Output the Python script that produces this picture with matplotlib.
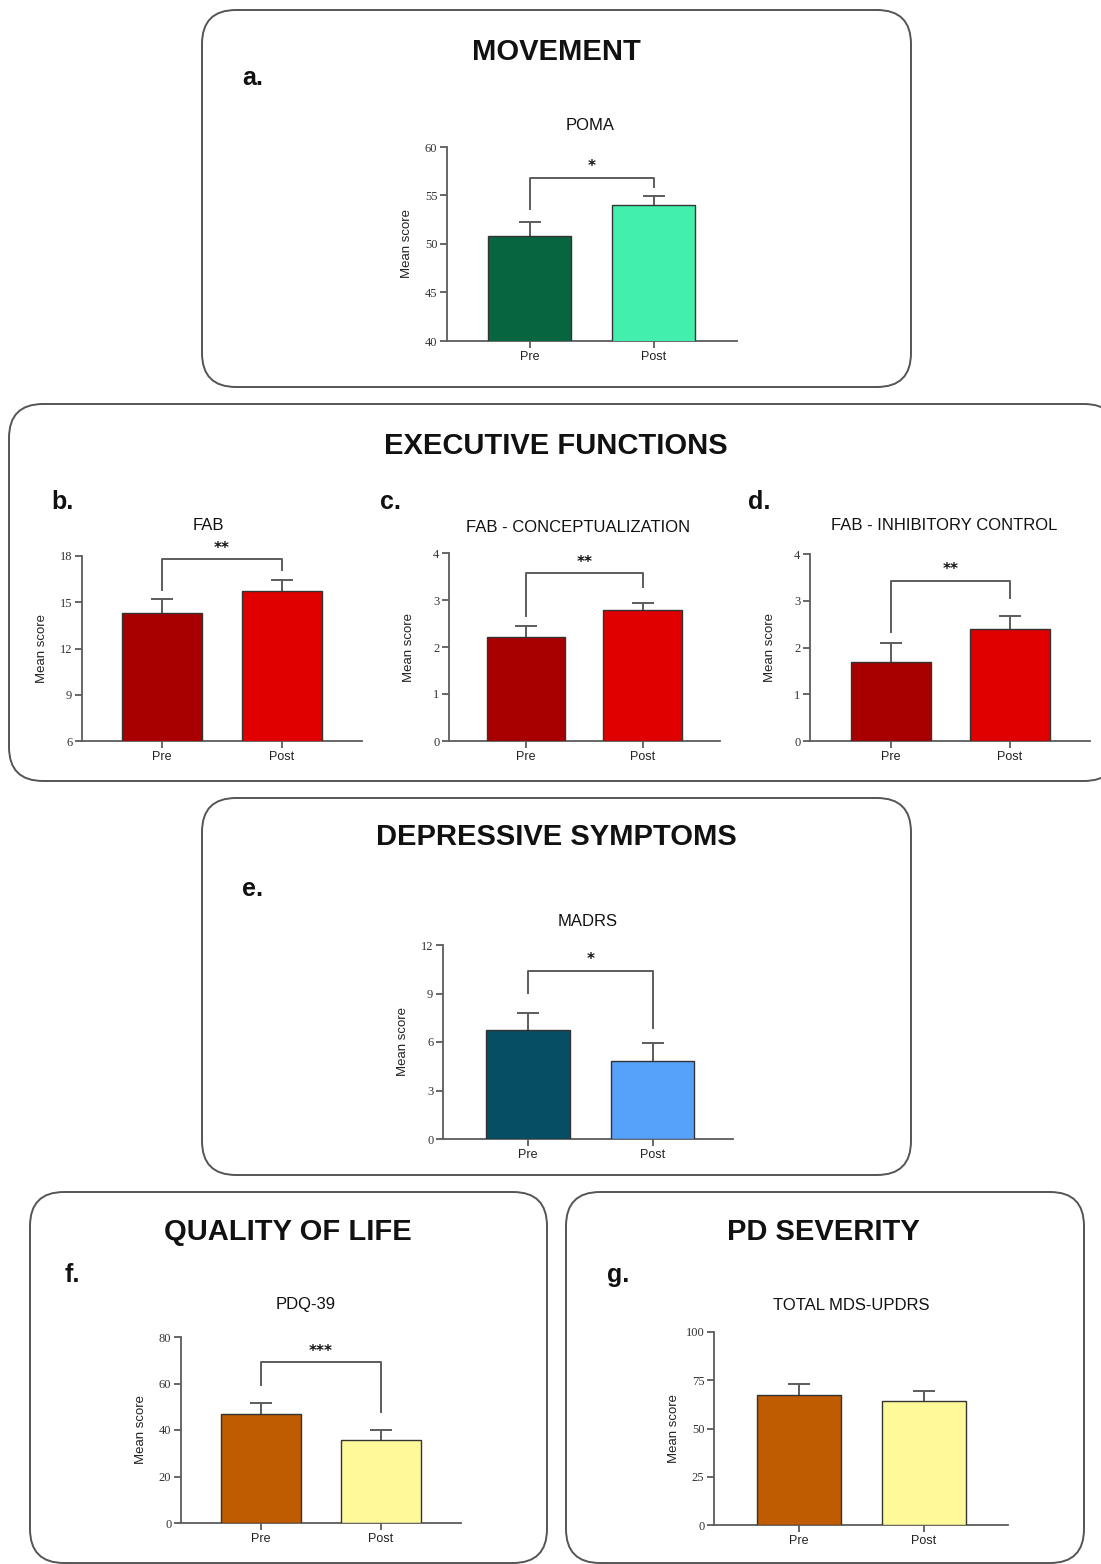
import numpy as np
import matplotlib
matplotlib.use('Agg')
import matplotlib.pyplot as plt
from matplotlib.patches import FancyBboxPatch

# data
categories = ['Pre', 'Post']

poma_mean = [50.8, 54.0]
poma_sem = [1.5, 0.9]
fab_mean = [14.3, 15.7]
fab_sem = [0.9, 0.75]
fab_conc_mean = [2.22, 2.78]
fab_conc_sem = [0.23, 0.15]
fab_inh_mean = [1.69, 2.39]
fab_inh_sem = [0.40, 0.29]
madrs_mean = [6.72, 4.85]
madrs_sem = [1.07, 1.07]
pdq_mean = [46.9, 35.8]
pdq_sem = [4.7, 4.0]
updrs_mean = [67.3, 64.2]
updrs_sem = [6.0, 5.2]

# significance brackets: left leg end, bar height, right leg end, star height, label
poma_sig = [53.6, 56.8, 55.9, 58.0, '*']
fab_sig = [15.8, 17.8, 17.1, 18.5, '**']
fab_conc_sig = [2.67, 3.58, 3.28, 3.79, '**']
fab_inh_sig = [2.34, 3.43, 3.06, 3.66, '**']
madrs_sig = [9.05, 10.41, 6.88, 11.1, '*']
pdq_sig = [59.5, 69.2, 47.6, 73.7, '***']

W, H = 1101, 1564
fig = plt.figure(figsize=(W / 100, H / 100), dpi=100)

# background axis in pixel coords for boxes and headings
bg = fig.add_axes([0, 0, 1, 1], zorder=0)
bg.set_xlim(0, W)
bg.set_ylim(H, 0)
bg.axis('off')

boxes = [(202, 10, 911, 387), (9, 404, 1118, 781), (202, 798, 911, 1175),
         (30, 1192, 547, 1563), (566, 1192, 1084, 1563)]
for x0, y0, x1, y1 in boxes:
    bg.add_patch(FancyBboxPatch((x0, y0), x1 - x0, y1 - y0,
                                boxstyle='round,pad=0,rounding_size=34',
                                fc='white', ec='#555555', lw=1.4))

heads = [('MOVEMENT', 556, 52), ('EXECUTIVE FUNCTIONS', 556, 446),
         ('DEPRESSIVE SYMPTOMS', 556, 837), ('QUALITY OF LIFE', 288, 1232),
         ('PD SEVERITY', 823, 1232)]
for t, x, y in heads:
    bg.text(x, y, t, ha='center', va='center', fontsize=21, fontweight='bold',
            family='Liberation Sans', color='#111111')

letters = [('a.', 242, 78), ('b.', 51, 502), ('c.', 380, 502), ('d.', 748, 502),
           ('e.', 242, 889), ('f.', 65, 1275), ('g.', 607, 1275)]
for t, x, y in letters:
    bg.text(x, y, t, ha='left', va='center', fontsize=18, fontweight='bold',
            family='Liberation Sans', color='#111111')

GRAY = '#5c5c5c'


def panel(title, tx, ty, box, centers, means, sems, colors, ylim, yticks, sig=None):
    left, right, top, bottom = box
    c0, c1 = centers
    sp = c1 - c0
    ax = fig.add_axes([left / W, 1 - bottom / H, (right - left) / W, (bottom - top) / H], zorder=2)
    ax.patch.set_alpha(0)
    x = np.arange(len(categories))
    ax.bar(x, means, width=0.67, color=colors, edgecolor='#333333', linewidth=1.0, zorder=3)
    eb = ax.errorbar(x, means, yerr=[np.zeros(len(means)), sems], fmt='none',
                     ecolor=GRAY, elinewidth=1.4, capsize=8, capthick=1.4, zorder=2)
    eb[1][0].set_visible(False)
    ax.set_xlim((left - c0) / sp, (right - c0) / sp)
    ax.set_ylim(*ylim)
    ax.set_yticks(yticks)
    ax.set_xticks(x)
    ax.set_xticklabels(categories, family='Liberation Sans', fontsize=9, color='#222222')
    for lab in ax.get_yticklabels():
        lab.set_family('Liberation Serif')
        lab.set_fontsize(9)
        lab.set_color('#333333')
    for s in ['top', 'right']:
        ax.spines[s].set_visible(False)
    for s in ['left', 'bottom']:
        ax.spines[s].set_color(GRAY)
        ax.spines[s].set_linewidth(1.3)
    ax.tick_params(axis='both', color=GRAY, width=1.3, length=5, pad=2)
    if sig is not None:
        l, h, r, st, lab = sig
        ax.plot([0, 0, 1, 1], [l, h, h, r], color=GRAY, lw=1.4, clip_on=False)
        ax.text(0.5, st, lab, ha='center', va='center', fontsize=11, fontweight='bold',
                color='#111111', clip_on=False)
    bg.text(tx, ty, title, ha='center', va='center', fontsize=12,
            family='Liberation Sans', color='#111111')
    bg.text(left - 40, (top + bottom) / 2, 'Mean score', rotation=90, ha='center',
            va='center', fontsize=9.5, family='Liberation Sans', color='#222222')
    return ax


green = ['#076640', '#42EFAC']
red = ['#A80000', '#E00000']
blue = ['#054E63', '#56A2FA']
orange = ['#BF5B00', '#FFF99A']

panel('POMA', 590, 126, (447, 737, 147, 341), (529.5, 653.5), poma_mean, poma_sem,
      green, (40, 60), [40, 45, 50, 55, 60], poma_sig)
panel('FAB', 208, 525, (82, 362, 556, 741), (162, 282), fab_mean, fab_sem,
      red, (6, 18), [6, 9, 12, 15, 18], fab_sig)
panel('FAB - CONCEPTUALIZATION', 578, 528, (449, 720, 553, 741), (526, 642.5),
      fab_conc_mean, fab_conc_sem, red, (0, 4), [0, 1, 2, 3, 4], fab_conc_sig)
panel('FAB - INHIBITORY CONTROL', 944, 525, (810, 1090, 554, 741), (891, 1010),
      fab_inh_mean, fab_inh_sem, red, (0, 4), [0, 1, 2, 3, 4], fab_inh_sig)
panel('MADRS', 588, 921, (443, 733, 945, 1139), (528, 652.7), madrs_mean, madrs_sem,
      blue, (0, 12), [0, 3, 6, 9, 12], madrs_sig)
panel('PDQ-39', 306, 1305, (181, 461, 1337, 1523), (261, 381), pdq_mean, pdq_sem,
      orange, (0, 80), [0, 20, 40, 60, 80], pdq_sig)
panel('TOTAL MDS-UPDRS', 851, 1305, (714, 1008, 1332, 1525), (799, 924), updrs_mean,
      updrs_sem, orange, (0, 100), [0, 25, 50, 75, 100])

fig.savefig('out.png', dpi=100)
